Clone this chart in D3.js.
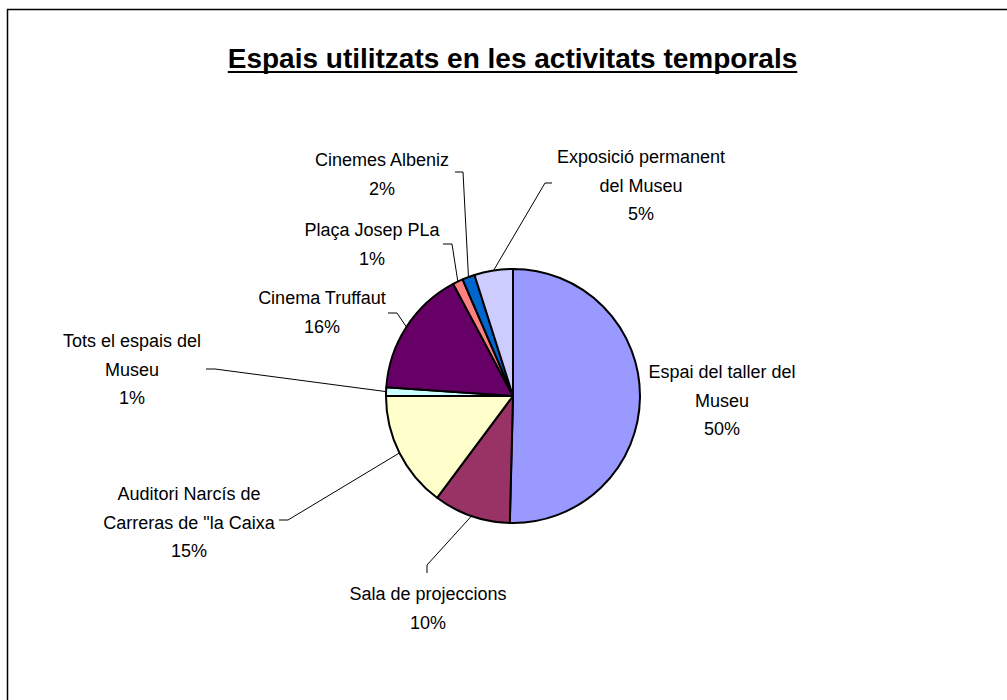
<!DOCTYPE html>
<html>
<head>
<meta charset="utf-8">
<script src="https://cdn.jsdelivr.net/npm/d3@7"></script>
<style>
  html, body { margin: 0; padding: 0; background: #fff; }
  svg { display: block; }
  text { font-family: "Liberation Sans", Arial, sans-serif; fill: #000; }
</style>
</head>
<body>
<svg id="chart" width="1007" height="700"></svg>
<script>
// ---- data ----
const categories = [
  "Espai del taller del Museu",
  "Sala de projeccions",
  "Auditori Narcís de Carreras de \"la Caixa",
  "Tots el espais del Museu",
  "Cinema Truffaut",
  "Plaça Josep PLa",
  "Cinemes Albeniz",
  "Exposició permanent del Museu"
];
const values = [50.4, 9.8, 14.8, 1.1, 16.1, 1.3, 1.6, 4.9];
const labelLines = [
  ["Espai del taller del", "Museu"],
  ["Sala de projeccions"],
  ["Auditori Narcís de", "Carreras de \"la Caixa"],
  ["Tots el espais del", "Museu"],
  ["Cinema Truffaut"],
  ["Plaça Josep PLa"],
  ["Cinemes Albeniz"],
  ["Exposició permanent", "del Museu"]
];
const colors = ["#9999FF", "#993366", "#FFFFCC", "#CCFFFF", "#660066", "#FF8080", "#0066CC", "#CCCCFF"];
const title = "Espais utilitzats en les activitats temporals";

// ---- layout (label anchor: center x, first baseline y; leader start & elbow) ----
const labelLayout = [
  { x: 722, y: 378, lead: null },
  { x: 428, y: 600, lead: [[427, 573], [427, 565]] },
  { x: 189, y: 500, lead: [[279, 520], [288, 520]] },
  { x: 132, y: 347, lead: [[206, 369], [215, 369]] },
  { x: 322, y: 304, lead: [[388, 313], [397, 313]] },
  { x: 372, y: 236, lead: [[443, 244], [452, 244]] },
  { x: 382, y: 166, lead: [[455, 172], [463, 172]] },
  { x: 641, y: 163, lead: [[552, 183], [545, 183]] }
];
const cx = 513, cy = 396, R = 127, lineH = 28.5;

const svg = d3.select("#chart");

// frame
svg.append("path")
  .attr("d", "M7.5,720 L7.5,9.5 L1030,9.5")
  .attr("fill", "none").attr("stroke", "#000").attr("stroke-width", 1.5);

// title
const t = svg.append("text")
  .attr("x", 512.5).attr("y", 68)
  .attr("text-anchor", "middle")
  .attr("font-size", 28).attr("font-weight", "bold")
  .text(title);
const tb = t.node().getBBox();
svg.append("line")
  .attr("x1", tb.x).attr("x2", tb.x + tb.width)
  .attr("y1", 72).attr("y2", 72)
  .attr("stroke", "#000").attr("stroke-width", 2.2);

// pie
const data = categories.map((c, i) => ({ name: c, value: values[i], i }));
const pie = d3.pie().value(d => d.value).sort(null);
const arcs = pie(data);
const arc = d3.arc().innerRadius(0).outerRadius(R);
const edgeArc = d3.arc().innerRadius(R).outerRadius(R);
const total = d3.sum(values);
const pct = d3.format(".0%");

const g = svg.append("g").attr("transform", `translate(${cx},${cy})`);
g.selectAll("path.slice").data(arcs).enter().append("path")
  .attr("class", "slice")
  .attr("d", arc)
  .attr("fill", d => colors[d.data.i])
  .attr("stroke", "#000").attr("stroke-width", 2)
  .attr("stroke-linejoin", "round");

// leader lines
arcs.forEach(a => {
  const L = labelLayout[a.data.i];
  if (!L.lead) return;
  const e = edgeArc.centroid(a);
  const pts = [L.lead[0], L.lead[1], [cx + e[0], cy + e[1]]];
  svg.append("path")
    .attr("d", d3.line()(pts))
    .attr("fill", "none").attr("stroke", "#000").attr("stroke-width", 1);
});

// labels
arcs.forEach(a => {
  const L = labelLayout[a.data.i];
  const lines = labelLines[a.data.i].concat([pct(a.data.value / total)]);
  const txt = svg.append("text")
    .attr("text-anchor", "middle")
    .attr("font-size", 18);
  lines.forEach((s, k) => {
    txt.append("tspan").attr("x", L.x).attr("y", L.y + k * lineH).text(s);
  });
});
</script>
</body>
</html>
